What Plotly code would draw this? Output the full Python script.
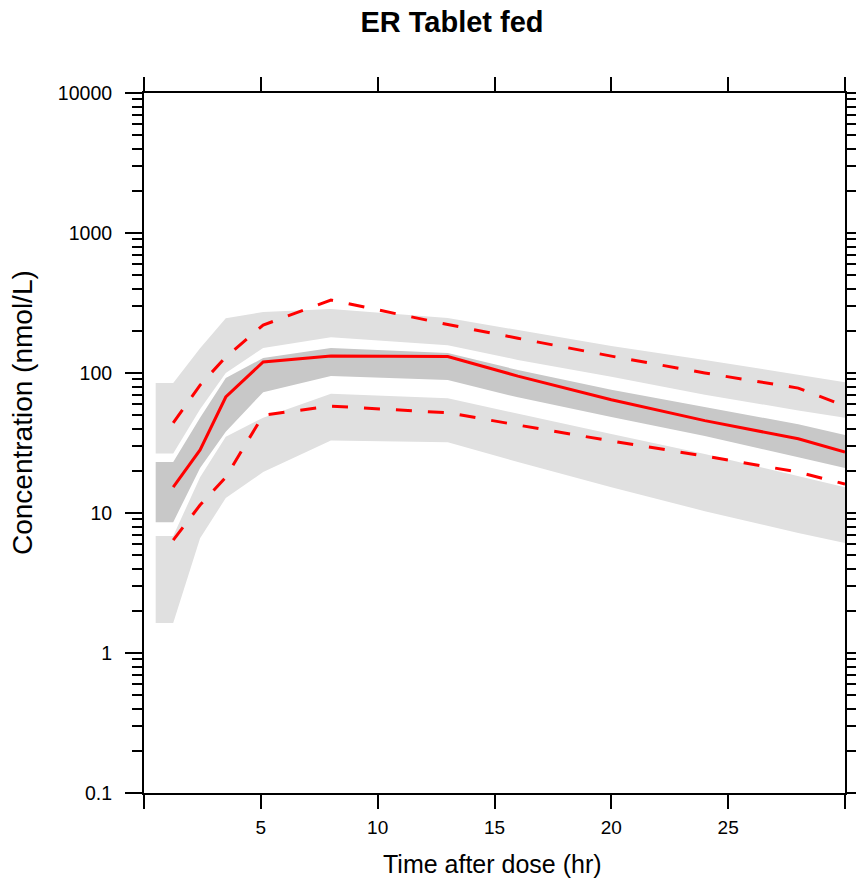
import plotly.graph_objects as go

# ---- data ----
time_pred = [0.5, 1.25, 2.4, 3.5, 5.1, 8, 13, 16, 20, 24, 28, 30]
pi95_hi = [85, 85, 150, 246, 273, 286, 247, 203, 156, 124, 97, 86]
pi95_lo = [26.6, 26.6, 55, 100, 151, 180, 158, 124, 94, 70, 54, 48]
med_hi = [23.1, 23.1, 48, 92, 128, 151, 139, 105, 76, 57, 43, 36]
med_lo = [8.6, 8.6, 21, 38, 73, 95, 89, 67, 48.5, 35.5, 25, 21]
pi5_hi = [6.85, 6.85, 18, 35, 48, 71, 66, 51, 36.6, 26.4, 18.4, 15.3]
pi5_lo = [1.64, 1.64, 6.6, 12.8, 19.6, 33, 32, 23.1, 15.3, 10.3, 7.2, 6.1]

time_obs = [1.25, 2.4, 3.5, 5.1, 8, 13, 16, 20, 24, 28, 30]
obs_median = [15.3, 28.2, 67.4, 120, 132, 131, 95, 64.4, 45.7, 33.9, 27.3]
obs_p95 = [44, 82, 130, 220, 332, 222, 177, 132, 100, 78, 58]
obs_p5 = [6.4, 11.4, 18, 50, 58, 52, 42.5, 32.7, 25.5, 19.6, 16.1]

x_ticks = [0, 5, 10, 15, 20, 25, 30]
x_ticktext = ["", "5", "10", "15", "20", "25", ""]
y_ticks = [0.1, 1, 10, 100, 1000, 10000]
y_ticktext = ["0.1", "1", "10", "100", "1000", "10000"]

LIGHT = "#E0E0E0"
DARK = "#C8C8C8"
RED = "#FF0000"
FONT = "Liberation Sans, Arial, sans-serif"

fig = go.Figure()


def band(lo, hi, color):
    fig.add_trace(go.Scatter(
        x=time_pred + time_pred[::-1],
        y=hi + lo[::-1],
        fill="toself", fillcolor=color, mode="lines",
        line=dict(width=0, color=color), hoverinfo="skip", showlegend=False))


band(pi95_lo, pi95_hi, LIGHT)
band(pi5_lo, pi5_hi, LIGHT)
band(med_lo, med_hi, DARK)

fig.add_trace(go.Scatter(x=time_obs, y=obs_p95, mode="lines",
                         line=dict(color=RED, width=3, dash="16px,16px"), showlegend=False))
fig.add_trace(go.Scatter(x=time_obs, y=obs_p5, mode="lines",
                         line=dict(color=RED, width=3, dash="16px,16px"), showlegend=False))
fig.add_trace(go.Scatter(x=time_obs, y=obs_median, mode="lines",
                         line=dict(color=RED, width=3), showlegend=False))

minor_vals = [m * 10 ** k for k in range(-1, 4) for m in range(2, 10)]

L, R, T, B = 144, 11, 93, 93
W, H = 856, 886
plot_w = W - L - R
plot_h = H - T - B

fig.update_layout(
    width=W, height=H,
    margin=dict(l=L, r=R, t=T, b=B, autoexpand=False),
    paper_bgcolor="white", plot_bgcolor="white",
    font=dict(family=FONT, color="black"),
    showlegend=False,
    title=dict(text="<b>ER Tablet fed</b>", x=452 / W, xanchor="center",
               y=1 - 22 / H, yanchor="middle", yref="container", xref="container",
               font=dict(size=29, family=FONT, color="black")),
    xaxis=dict(range=[0, 30], tickvals=x_ticks, ticktext=x_ticktext,
               ticks="outside", ticklen=14, tickwidth=2, tickcolor="black",
               showline=True, linecolor="black", linewidth=2, mirror="ticks",
               showgrid=False, zeroline=False, tickfont=dict(size=19),
               ticklabelstandoff=2, automargin=False),
    yaxis=dict(type="log", range=[-1, 4], tickvals=y_ticks, ticktext=y_ticktext,
               ticks="outside", ticklen=17, tickwidth=2, tickcolor="black",
               showline=True, linecolor="black", linewidth=2, mirror="ticks",
               showgrid=False, zeroline=False, tickfont=dict(size=19.5),
               ticklabelstandoff=9, automargin=False,
               minor=dict(tickvals=minor_vals, ticks="outside", ticklen=10,
                          tickwidth=2, tickcolor="black", showgrid=False)),
    annotations=[
        dict(text="Time after dose (hr)", x=(492 - L) / plot_w, y=-(864 - (H - B)) / plot_h,
             xref="paper", yref="paper", xanchor="center", yanchor="middle",
             showarrow=False, font=dict(size=25)),
        dict(text="Concentration (nmol/L)", textangle=-90, x=-(L - 22) / plot_w,
             y=((H - B) - 413) / plot_h,
             xref="paper", yref="paper", xanchor="center", yanchor="middle",
             showarrow=False, font=dict(size=28)),
    ],
)

fig.write_html("out.html", config={"displayModeBar": False},
               post_script="document.body.style.margin='0';document.body.style.overflow='hidden';")
